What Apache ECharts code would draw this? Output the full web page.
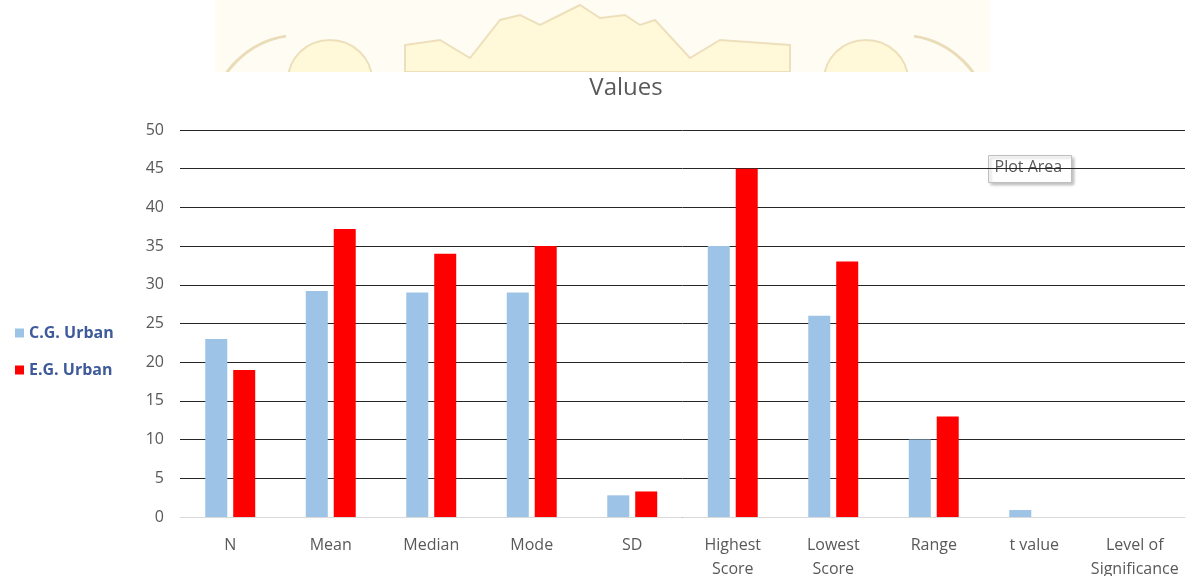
<!DOCTYPE html>
<html>
<head>
<meta charset="utf-8">
<script src="https://cdn.jsdelivr.net/npm/echarts@6/dist/echarts.min.js"></script>
<style>
  html, body { margin: 0; padding: 0; background: #fff; }
  #chart { width: 1188px; height: 576px; }
</style>
</head>
<body>
<div id="chart"></div>
<script>
// data
const categories = ['N', 'Mean', 'Median', 'Mode', 'SD', 'Highest\nScore', 'Lowest\nScore', 'Range', 't value', 'Level of\nSignificance']
const cgUrban = [23, 29.2, 29, 29, 2.8, 35, 26, 10, 0.9, 0]
const egUrban = [19, 37.2, 34, 35, 3.3, 45, 33, 13, 0, 0]
const yTicks = [0, 5, 10, 15, 20, 25, 30, 35, 40, 45, 50]

const font = '"Open Sans", Lato, sans-serif'
const grey = '#595959'

var myChart = echarts.init(document.getElementById('chart'))

// faint emblem watermark at the top (decoration only), cut off at y=72
const wm = { fill: 'rgba(254,240,170,0.35)', stroke: 'rgba(225,205,160,0.6)', lineWidth: 2 }
const watermark = [
    { type: 'rect', shape: { x: 215, y: 0, width: 775, height: 72 }, style: { fill: 'rgba(255,249,222,0.35)' }, z: -10 },
    { type: 'ellipse', shape: { cx: 330, cy: 80, rx: 42, ry: 40 }, style: wm, z: -9 },
    { type: 'ellipse', shape: { cx: 866, cy: 80, rx: 42, ry: 40 }, style: wm, z: -9 },
    { type: 'polygon', shape: { points: [[405, 45], [440, 40], [470, 58], [500, 20], [520, 15], [540, 25], [560, 15], [580, 5], [600, 18], [625, 15], [640, 25], [655, 20], [690, 58], [720, 40], [790, 45], [790, 72], [405, 72]] }, style: wm, z: -9 },
    { type: 'arc', shape: { cx: 300, cy: 125, r: 90, startAngle: Math.PI * 1.05, endAngle: Math.PI * 1.45 }, style: { stroke: 'rgba(225,205,160,0.7)', lineWidth: 3 }, z: -9 },
    { type: 'arc', shape: { cx: 900, cy: 125, r: 90, startAngle: Math.PI * 1.55, endAngle: Math.PI * 1.95 }, style: { stroke: 'rgba(225,205,160,0.7)', lineWidth: 3 }, z: -9 },
    { type: 'rect', shape: { x: 0, y: 72, width: 1188, height: 55 }, style: { fill: '#fff' }, z: -8 }
]

// "Plot Area" hover box
const plotAreaTip = {
    type: 'group', left: 988, top: 155, z: 50,
    children: [
        { type: 'rect', shape: { x: 0, y: 0, width: 83, height: 27 }, style: { fill: '#fff', stroke: '#bfbfbf', lineWidth: 1, shadowBlur: 3, shadowOffsetX: 2, shadowOffsetY: 2, shadowColor: 'rgba(0,0,0,0.25)' } },
        { type: 'text', left: 6, top: 4, style: { text: 'Plot Area', fill: grey, font: '16px ' + font } }
    ]
}

myChart.setOption({
    animation: false,
    backgroundColor: '#fff',
    title: {
        text: 'Values',
        left: 621,
        top: 71,
        textAlign: 'center',
        textStyle: { color: grey, fontFamily: font, fontSize: 24, fontWeight: 'normal' }
    },
    legend: {
        orient: 'vertical',
        left: 10,
        top: 320,
        itemWidth: 9,
        itemHeight: 9,
        itemGap: 21,
        icon: 'rect',
        textStyle: { color: '#3e5a9a', fontFamily: font, fontSize: 16, fontWeight: 'bold' },
        data: ['C.G. Urban', 'E.G. Urban']
    },
    grid: { left: 180, right: 3, top: 130, bottom: 59, outerBoundsMode: 'none', containLabel: false },
    xAxis: {
        type: 'category',
        data: categories,
        axisTick: { show: false },
        axisLine: { lineStyle: { color: '#d9d9d9', width: 1 } },
        axisLabel: { color: grey, fontFamily: font, fontSize: 16, margin: 16, lineHeight: 24, interval: 0 }
    },
    yAxis: {
        type: 'value',
        min: yTicks[0],
        max: yTicks[yTicks.length - 1],
        interval: 5,
        axisLine: { show: false },
        axisTick: { show: false },
        axisLabel: { color: grey, fontFamily: font, fontSize: 16, margin: 16 },
        splitLine: { lineStyle: { color: '#262626', width: 1 } }
    },
    series: [
        {
            name: 'C.G. Urban',
            type: 'bar',
            data: cgUrban,
            barWidth: 22,
            barGap: '27%',
            itemStyle: { color: '#9dc3e6' }
        },
        {
            name: 'E.G. Urban',
            type: 'bar',
            data: egUrban,
            barWidth: 22,
            itemStyle: { color: '#ff0000' }
        }
    ],
    graphic: watermark.concat([plotAreaTip])
})
</script>
</body>
</html>
